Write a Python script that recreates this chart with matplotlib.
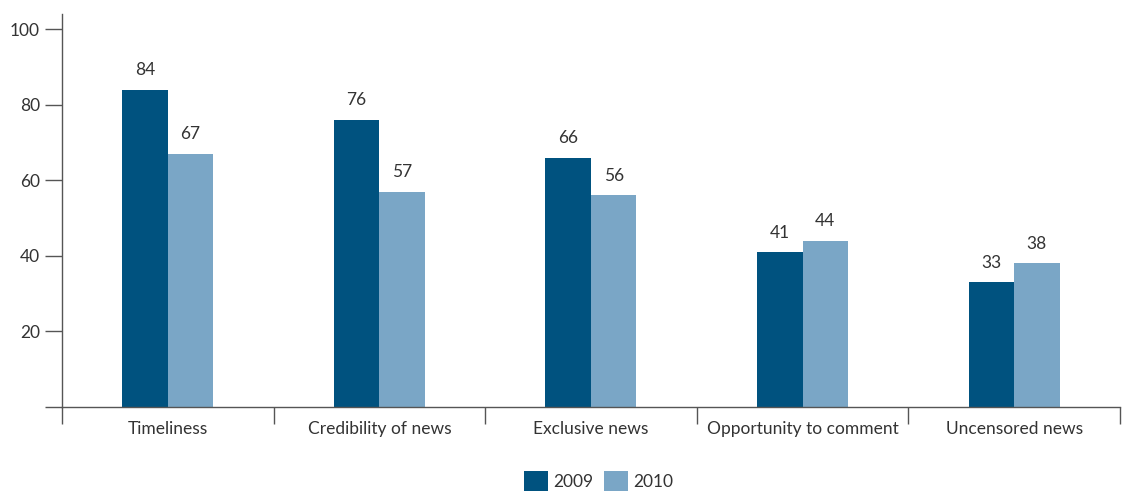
import matplotlib
matplotlib.use('Agg')
import matplotlib.pyplot as plt
import numpy as np

categories = ['Timeliness', 'Credibility of news', 'Exclusive news',
              'Opportunity to comment', 'Uncensored news']
values_2009 = [84, 76, 66, 41, 33]
values_2010 = [67, 57, 56, 44, 38]
series_labels = ['2009', '2010']

dark = '#00527f'
light = '#7aa6c6'
txt = '#333333'

plt.rcParams['font.family'] = ['Lato', 'DejaVu Sans']

fig = plt.figure(figsize=(11.23, 4.92), dpi=100)
ax = fig.add_axes([0.0552, 0.1728, 0.9421, 0.7987])

x = np.arange(len(categories))
w = 0.215
b1 = ax.bar(x - w / 2, values_2009, w, color=dark, label=series_labels[0])
b2 = ax.bar(x + w / 2, values_2010, w, color=light, label=series_labels[1])

# value labels above bars
for bars, vals in [(b1, values_2009), (b2, values_2010)]:
    for r, v in zip(bars, vals):
        ax.text(r.get_x() + r.get_width() / 2, v + 3, str(v), ha='center',
                va='bottom', fontsize=12.5, color=txt)

ax.set_xlim(-0.5, len(categories) - 0.5)
ax.set_ylim(0, 104)

ax.set_yticks([0, 20, 40, 60, 80, 100])
ax.set_yticklabels(['', '20', '40', '60', '80', '100'])
ax.tick_params(axis='y', length=12, width=1, color='#555555',
               labelsize=12.5, labelcolor=txt, pad=4)

# category ticks between groups, labels at centres
ax.set_xticks(np.arange(len(categories) + 1) - 0.5)
ax.set_xticklabels([])
ax.set_xticks(x, minor=True)
ax.set_xticklabels(categories, minor=True)
ax.tick_params(axis='x', which='major', length=12, width=1, color='#555555',
               direction='out')
ax.tick_params(axis='x', which='minor', length=0, labelsize=12.5,
               labelcolor=txt, pad=10)

for s in ['top', 'right']:
    ax.spines[s].set_visible(False)
for s in ['left', 'bottom']:
    ax.spines[s].set_color('#555555')
    ax.spines[s].set_linewidth(1)

leg = fig.legend(loc='lower center', bbox_to_anchor=(0.533, -0.03), ncol=2,
                 frameon=False, fontsize=12.5, handlelength=1.4,
                 handleheight=1.4, handletextpad=0.3, columnspacing=0.6,
                 labelcolor=txt)

fig.savefig('out.png', dpi=100)
